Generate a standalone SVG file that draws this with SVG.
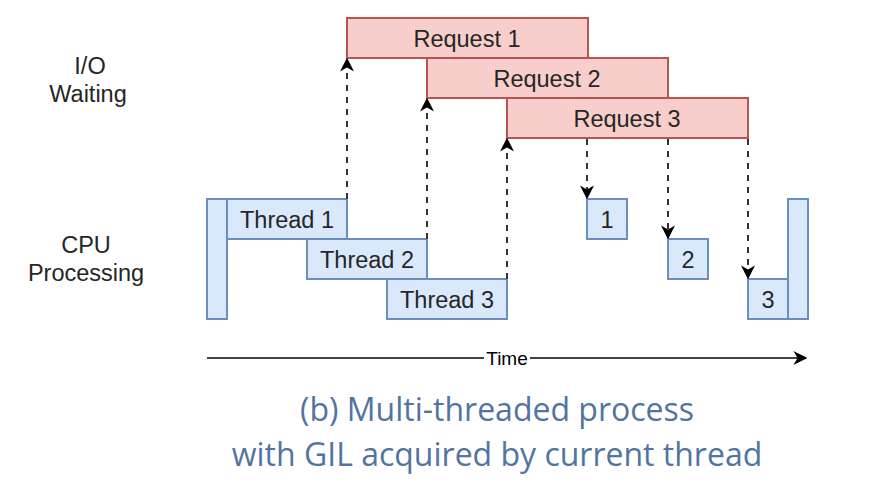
<svg xmlns="http://www.w3.org/2000/svg" width="886" height="500" viewBox="0 0 886 500">
<style>
.req{fill:#f8cecc;stroke:#b85450;stroke-width:2}
.thr{fill:#dae8fc;stroke:#6c8ebf;stroke-width:2}
.t{font-family:"Liberation Sans",Arial,sans-serif;font-size:23.5px;fill:#262626;text-anchor:middle}
.lbl{font-family:"Liberation Sans",Arial,sans-serif;font-size:23.5px;fill:#262626;text-anchor:middle}
.dash{stroke:#333;stroke-width:2;stroke-dasharray:6 6;fill:none}
.cap{font-family:"Open Sans","Noto Sans",sans-serif;font-size:32px;fill:#5274a0;text-anchor:middle}
</style>
<defs>
<marker id="ah2" viewBox="0 0 10 10" refX="9" refY="5" markerWidth="14" markerHeight="14" markerUnits="userSpaceOnUse" orient="auto">
<path d="M0,0 L10,5 L0,10 L3,5 Z" fill="#000"/>
</marker>
</defs>
<g id="labels">
<text class="lbl" x="90" y="74">I/O</text>
<text class="lbl" x="88" y="102">Waiting</text>
<text class="lbl" x="86" y="253">CPU</text>
<text class="lbl" x="86" y="281">Processing</text>
</g>
<g id="req1"><rect class="req" x="347" y="18" width="241" height="40"/><text class="t" x="467" y="47">Request 1</text></g>
<g id="req2"><rect class="req" x="427" y="58" width="241" height="40"/><text class="t" x="547" y="87">Request 2</text></g>
<g id="req3"><rect class="req" x="507" y="98" width="241" height="40"/><text class="t" x="627" y="127">Request 3</text></g>
<g id="barL"><rect class="thr" x="207" y="199" width="20" height="120"/></g>
<g id="thread1"><rect class="thr" x="227" y="199" width="120" height="40"/><text class="t" x="287" y="228">Thread 1</text></g>
<g id="thread2"><rect class="thr" x="307" y="239" width="120" height="40"/><text class="t" x="367" y="268">Thread 2</text></g>
<g id="thread3"><rect class="thr" x="387" y="279" width="120" height="40"/><text class="t" x="447" y="308">Thread 3</text></g>
<g id="b1"><rect class="thr" x="587" y="199" width="40" height="40"/><text class="t" x="607" y="228">1</text></g>
<g id="b2"><rect class="thr" x="668" y="239" width="40" height="40"/><text class="t" x="688" y="268">2</text></g>
<g id="b3"><rect class="thr" x="748" y="279" width="40" height="40"/><text class="t" x="768" y="308">3</text></g>
<g id="barR"><rect class="thr" x="788" y="199" width="20" height="120"/></g>
<g id="connectors">
<line class="dash" x1="347" y1="199" x2="347" y2="59" marker-end="url(#ah2)"/>
<line class="dash" x1="427" y1="239" x2="427" y2="99" marker-end="url(#ah2)"/>
<line class="dash" x1="507" y1="279" x2="507" y2="139" marker-end="url(#ah2)"/>
<line class="dash" x1="587" y1="139" x2="587" y2="198" marker-end="url(#ah2)"/>
<line class="dash" x1="668" y1="139" x2="668" y2="238" marker-end="url(#ah2)"/>
<line class="dash" x1="748" y1="139" x2="748" y2="278" marker-end="url(#ah2)"/>
<line x1="207" y1="358" x2="806" y2="358" stroke="#000" stroke-width="1.3" marker-end="url(#ah2)"/>
<rect x="484" y="349" width="46" height="18" fill="#fff"/>
<text x="507" y="365" font-family="Liberation Sans,Arial,sans-serif" font-size="19" fill="#000" text-anchor="middle">Time</text>
</g>
<g id="caption">
<text class="cap" x="497" y="421">(b) Multi-threaded process</text>
<text class="cap" x="497" y="466">with GIL acquired by current thread</text>
</g>
</svg>
